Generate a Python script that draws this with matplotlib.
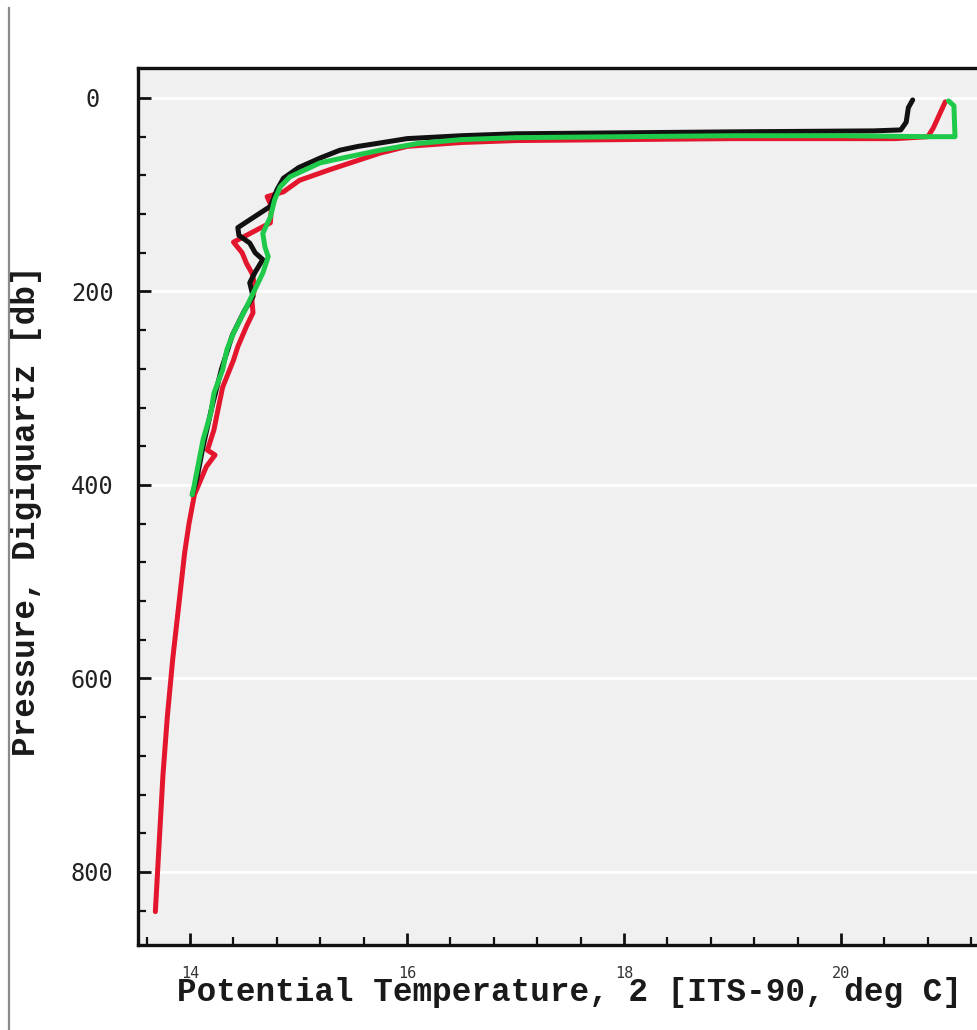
import matplotlib
matplotlib.use("Agg")
import matplotlib.pyplot as plt
from matplotlib.ticker import MultipleLocator, FixedLocator
from matplotlib.lines import Line2D

# Data (temperature degC, pressure db)
black_T = [20.66, 20.62, 20.60, 20.55, 20.3, 19.0, 18.0, 17.0, 16.5, 16.0, 15.75, 15.55, 15.38,
           15.2, 15.0, 14.86, 14.8, 14.74, 14.44, 14.45, 14.55, 14.6, 14.67, 14.6, 14.55, 14.58,
           14.5, 14.39, 14.29, 14.2, 14.12, 14.06, 14.02]
black_P = [2, 10, 25, 33, 34, 35, 36, 37, 39, 42, 46.5, 50, 54,
           62, 72, 83, 95, 112, 134, 142, 150, 160, 167, 180, 191, 205,
           220, 245, 280, 320, 360, 395, 410]

red_T = [20.96, 20.85, 20.8, 20.5, 19.0, 18.0, 17.0, 16.5, 16.0, 15.75, 15.29, 15.01, 14.86,
         14.71, 14.75, 14.74, 14.40, 14.48, 14.52, 14.57, 14.6, 14.57, 14.58, 14.52, 14.44,
         14.4, 14.3, 14.25, 14.22, 14.16, 14.23, 14.15, 14.04, 13.99, 13.95, 13.92, 13.88,
         13.84, 13.79, 13.75, 13.72, 13.68]
red_P = [4, 31, 40, 42, 42, 43, 44, 46, 50, 57, 74, 85, 97,
         102, 112, 129, 149, 160, 171, 181, 195, 209, 222, 236, 257,
         271, 299, 326, 343, 364, 369, 381, 410, 440, 470, 500, 540,
         580, 640, 700, 760, 841]

green_T = [20.99, 21.04, 21.05, 20.8, 20.0, 19.0, 18.0, 17.0, 16.5, 16.1, 15.75, 15.45, 15.2,
           14.92, 14.83, 14.78, 14.74, 14.67, 14.69, 14.72, 14.67, 14.61, 14.52, 14.4, 14.34,
           14.3, 14.22, 14.19, 14.12, 14.03, 14.02]
green_P = [3, 8, 40, 40, 39, 39, 40, 41, 43, 47, 54, 61, 67,
           81.5, 92, 105, 123, 140, 154, 164, 181, 195, 216, 243, 260,
           281, 305, 326, 353, 405, 410]

x_ticks = [14, 16, 18, 20]
y_ticks = [0, 200, 400, 600, 800]
x_label = "Potential Temperature, 2 [ITS-90, deg C]"
y_label = "Pressure, Digiquartz [db]"

W, H = 978, 1030
fig = plt.figure(figsize=(W / 100, H / 100), dpi=100)

xmin, xmax = 13.52, 21.4
px_per_x = 108.5
ax_left = 138 / W
ax_w = (xmax - xmin) * px_per_x / W
ax_bottom = (H - 945) / H
ax_h = (945 - 68) / H
ax = fig.add_axes([ax_left, ax_bottom, ax_w, ax_h])
ax.set_facecolor("#f0f0f0")
ax.set_xlim(xmin, xmax)
ax.set_ylim(875.5, -31)

ax.plot(red_T, red_P, color="#e3162e", lw=3.6, solid_joinstyle="round", solid_capstyle="round", zorder=3)
ax.plot(black_T, black_P, color="#111111", lw=3.6, solid_joinstyle="round", solid_capstyle="round", zorder=4)
ax.plot(green_T, green_P, color="#1fc94a", lw=3.6, solid_joinstyle="round", solid_capstyle="round", zorder=5)

for yv in y_ticks:
    ax.axhline(yv, color="white", lw=2.0, zorder=1)

for side in ["left", "bottom", "top"]:
    ax.spines[side].set_linewidth(2.4)
    ax.spines[side].set_color("#111111")
ax.spines["right"].set_visible(False)

ax.xaxis.set_major_locator(FixedLocator(x_ticks))
ax.xaxis.set_minor_locator(MultipleLocator(0.4))
ax.yaxis.set_major_locator(FixedLocator(y_ticks))
ax.yaxis.set_minor_locator(MultipleLocator(40))

ax.tick_params(axis="both", which="major", direction="in", length=9, width=2.0, color="#111111")
ax.tick_params(axis="both", which="minor", direction="in", length=6, width=1.6, color="#111111")
ax.tick_params(axis="y", which="major", pad=33, labelsize=17)
ax.tick_params(axis="x", which="major", pad=15, labelsize=11)
ax.set_xticklabels([str(v) for v in x_ticks], family="DejaVu Sans Mono", color="#333333")
ax.set_yticklabels([str(v) for v in y_ticks], family="DejaVu Sans Mono", color="#222222", ha="center")

fig.text(570 / W, 1 - 992 / H, x_label, family="Liberation Mono", fontweight="bold",
         fontsize=23.5, ha="center", va="center", color="#1a1a1a")
fig.text(27 / W, 1 - 511 / H, y_label, family="Liberation Mono", fontweight="bold",
         fontsize=23.5, ha="center", va="center", rotation=90, color="#1a1a1a")

fig.add_artist(Line2D([8.5 / W, 8.5 / W], [0, 1 - 8 / H], transform=fig.transFigure,
                      color="#8a8a8a", lw=1.6))

fig.savefig("out.png", dpi=100)
